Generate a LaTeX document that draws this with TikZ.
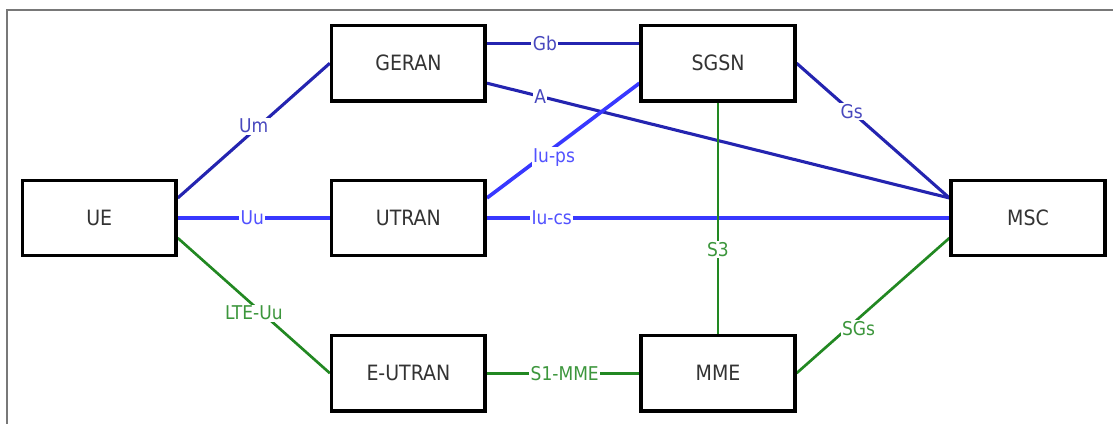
\documentclass[tikz,border=0pt]{standalone}
\usepackage{fontspec}
\setmainfont{DejaVu Sans Condensed}
\usetikzlibrary{positioning, backgrounds}

\definecolor{navyline}{RGB}{36,36,176}
\definecolor{blueline}{RGB}{56,56,255}
\definecolor{greenline}{RGB}{34,136,34}
\definecolor{navytext}{RGB}{72,72,190}
\definecolor{bluetext}{RGB}{82,82,255}
\definecolor{greentext}{RGB}{60,150,60}
\definecolor{framegray}{RGB}{120,120,120}

\begin{document}
\begin{tikzpicture}[
    every node/.style={font=\fontsize{15}{17}\selectfont},
    elem/.style={rectangle, draw, line width=2.5pt, minimum width=3.84cm, minimum height=1.88cm, align=center, fill=white, text=black!80},
    gsm/.style={draw=navyline, line width=2.2pt, every node/.append style={text=navytext}},
    umts/.style={draw=blueline, line width=2.6pt, every node/.append style={text=bluetext}},
    lte/.style={draw=greenline, line width=1.9pt, every node/.append style={text=greentext}},
    iface/.style={font=\fontsize{13.5}{15}\selectfont, fill=white, inner sep=1pt}]

  \clip (0,0) rectangle (27.825,10.6);
  \draw[framegray, line width=1pt] (0.175,-1) |- (29,10.35);

  \node[elem] (ue)     at ( 2.48, 5.15) {UE};
  \node[elem] (geran)  at (10.21, 9.02) {GERAN};
  \node[elem] (utran)  at (10.21, 5.15) {UTRAN};
  \node[elem] (eutran) at (10.21, 1.27) {E-UTRAN};
  \node[elem] (sgsn)   at (17.95, 9.02) {SGSN};
  \node[elem] (mme)    at (17.95, 1.27) {MME};
  \node[elem] (msc)    at (25.70, 5.15) {MSC};

  \begin{scope}[on background layer]
    % GSM / GPRS
    \draw[gsm] ([yshift=5mm]ue.east) -- node[iface, pos=0.5, yshift=1.1mm]{Um} (geran.west);
    \draw[gsm] ([yshift=5mm]geran.east) -- node[iface, pos=0.38]{Gb} ([yshift=5mm]sgsn.west);
    \draw[gsm] ([yshift=-5mm]geran.east) -- node[iface, pos=0.115]{A} ([yshift=5mm]msc.west);
    \draw[gsm] (sgsn.east) -- node[iface, pos=0.36]{Gs} ([yshift=5mm]msc.west);
    % UMTS
    \draw[umts] (ue.east) -- node[iface, pos=0.49]{Uu} (utran.west);
    \draw[umts] ([yshift=5mm]utran.east) -- node[iface, pos=0.44, yshift=-2.4mm]{Iu-ps} ([yshift=-5mm]sgsn.west);
    \draw[umts] (utran.east) -- node[iface, pos=0.14]{Iu-cs} (msc.west);
    % LTE
    \draw[lte] ([yshift=-5mm]ue.east) -- node[iface, pos=0.5, yshift=-1.9mm]{LTE-Uu} (eutran.west);
    \draw[lte] (eutran.east) -- node[iface, pos=0.51]{S1-MME} (mme.west);
    \draw[lte] (sgsn.south) -- node[iface, pos=0.635]{S3} (mme.north);
    \draw[lte] (mme.east) -- node[iface, pos=0.405, yshift=-2.5mm]{SGs} ([yshift=-5mm]msc.west);
  \end{scope}
\end{tikzpicture}
\end{document}
